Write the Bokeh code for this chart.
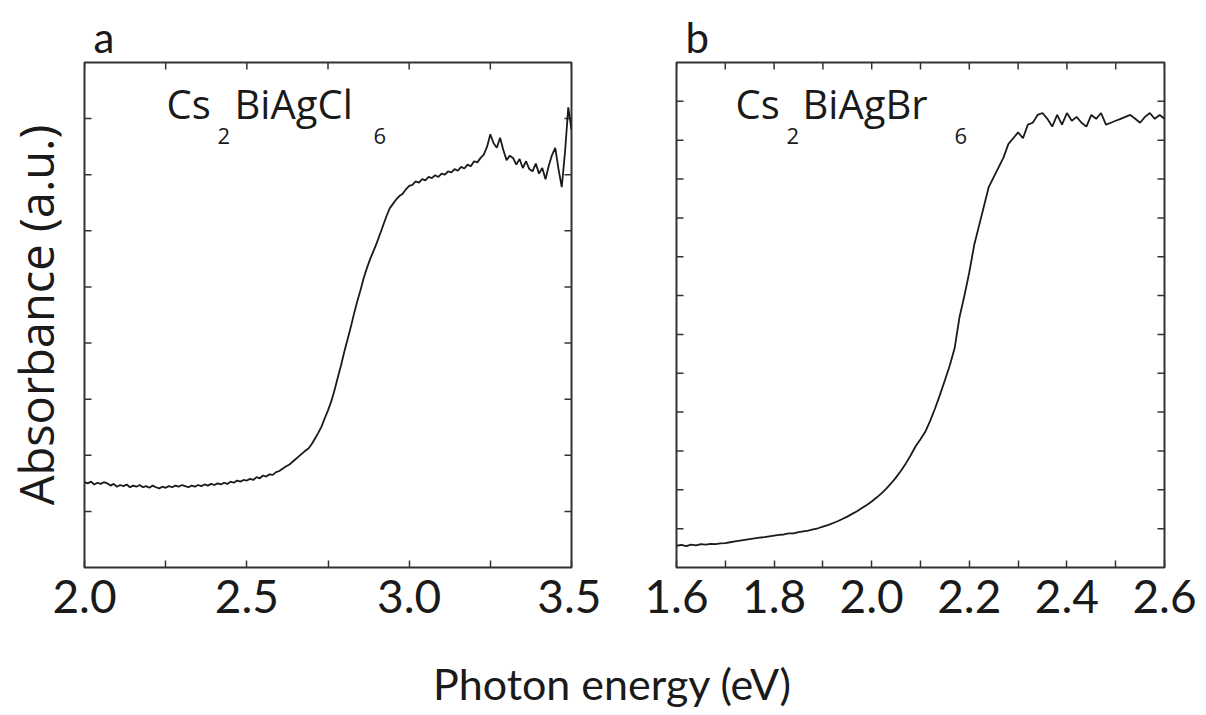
import math
from bokeh.plotting import figure
from bokeh.models import Label, FixedTicker, Range1d, PrintfTickFormatter
from bokeh.layouts import column, row
from bokeh.embed import file_html
from bokeh.resources import INLINE

# ---------------- data ----------------
# Panel a: Cs2BiAgCl6, photon energy 2.00 .. 3.50 eV (step 0.01)
energy_a = [round(2.00 + 0.01 * i, 2) for i in range(151)]
absorb_a = [
    1.52, 1.50, 1.53, 1.48, 1.51, 1.49, 1.52, 1.50, 1.46, 1.49,
    1.44, 1.47, 1.45, 1.48, 1.43, 1.46, 1.44, 1.47, 1.43, 1.45,
    1.42, 1.46, 1.43, 1.41, 1.44, 1.42, 1.45, 1.43, 1.46, 1.44,
    1.47, 1.45, 1.43, 1.46, 1.44, 1.47, 1.45, 1.48, 1.46, 1.49,
    1.47, 1.50, 1.48, 1.51, 1.49, 1.53, 1.51, 1.55, 1.53, 1.56,
    1.55, 1.58, 1.56, 1.61, 1.59, 1.64, 1.62, 1.66, 1.65, 1.70,
    1.72, 1.76, 1.80, 1.83, 1.88, 1.93, 1.98, 2.03, 2.08, 2.12,
    2.20, 2.30, 2.40, 2.51, 2.66, 2.80, 2.96, 3.16, 3.38, 3.60,
    3.84, 4.06, 4.28, 4.52, 4.74, 4.94, 5.16, 5.34, 5.50, 5.64,
    5.78, 5.94, 6.10, 6.26, 6.40, 6.48, 6.56, 6.62, 6.66, 6.74,
    6.80, 6.82, 6.88, 6.86, 6.92, 6.90, 6.96, 6.94, 6.99, 6.96,
    7.02, 7.00, 7.06, 7.04, 7.10, 7.07, 7.14, 7.11, 7.18, 7.15,
    7.24, 7.22, 7.30, 7.36, 7.50, 7.72, 7.56, 7.48, 7.66, 7.44,
    7.26, 7.34, 7.30, 7.18, 7.28, 7.12, 7.24, 7.10, 7.06, 7.20,
    7.02, 7.12, 6.92, 7.16, 7.35, 7.48, 7.10, 6.78, 7.40, 8.20,
    7.80,
]

# Panel b: Cs2BiAgBr6, photon energy 1.60 .. 2.60 eV (step 0.01)
energy_b = [round(1.60 + 0.01 * i, 2) for i in range(101)]
absorb_b = [
    0.56, 0.58, 0.55, 0.59, 0.57, 0.60, 0.59, 0.61, 0.60, 0.62,
    0.63, 0.65, 0.67, 0.69, 0.71, 0.73, 0.75, 0.77, 0.78, 0.80,
    0.82, 0.84, 0.85, 0.88, 0.88, 0.91, 0.93, 0.95, 0.98, 1.01,
    1.05, 1.09, 1.14, 1.19, 1.25, 1.31, 1.38, 1.45, 1.53, 1.61,
    1.70, 1.80, 1.91, 2.03, 2.17, 2.32, 2.49, 2.68, 2.89, 3.12,
    3.30, 3.50, 3.78, 4.10, 4.45, 4.82, 5.20, 5.65, 6.45, 7.00,
    7.60, 8.30, 8.80, 9.30, 9.80, 10.05, 10.30, 10.55, 10.90, 11.05,
    11.20, 11.05, 11.40, 11.45, 11.65, 11.70, 11.55, 11.35, 11.65, 11.40,
    11.70, 11.50, 11.60, 11.45, 11.35, 11.65, 11.55, 11.70, 11.40, 11.45,
    11.50, 11.55, 11.60, 11.65, 11.55, 11.45, 11.60, 11.70, 11.55, 11.65,
    11.55,
]

# tick positions (labelled / unlabelled)
xlab_a = [2.0, 2.5, 3.0, 3.5]
xminor_a = [2.25, 2.75, 3.25]
xlab_b = [1.6, 1.8, 2.0, 2.2, 2.4, 2.6]
xminor_b = [1.7, 1.9, 2.1, 2.3, 2.5]
ytick_a = [1, 2, 3, 4, 5, 6, 7, 8]
ytick_b = [1, 2, 3, 4, 5, 6, 7, 8, 9, 10, 11, 12]

formula_a = [("Cs", "big"), ("2", "sub"), ("BiAgCl", "big"), ("6", "sub")]
formula_b = [("Cs", "big"), ("2", "sub"), ("BiAgBr", "big"), ("6", "sub")]

x_label = "Photon energy (eV)"
y_label = "Absorbance (a.u.)"

# ---------------- style ----------------
TICK_FONT = "Lato"
TEXT_FONT = "Open Sans"
FRAME_COL = "#333333"
INK = "#1a1a1a"
TICK_LEN = 7


def make_panel(xr, yr, xlab, xminor, ytk, left_border, right_border, fw, letter, ylab=None):
    p = figure(
        x_range=Range1d(*xr), y_range=Range1d(*yr),
        frame_width=fw, frame_height=505,
        min_border_left=left_border, min_border_right=right_border,
        min_border_top=62, min_border_bottom=72,
        toolbar_location=None, output_backend="svg",
        background_fill_color="white", border_fill_color="white",
        y_axis_location="left" if ylab else None,
        title=letter,
    )
    p.grid.visible = False
    p.outline_line_color = FRAME_COL
    p.outline_line_width = 2

    # panel letter as title, just above the frame
    p.title.text_font = TICK_FONT
    p.title.text_font_size = "42px"
    p.title.text_font_style = "normal"
    p.title.text_color = INK
    p.title.align = "left"
    p.title.offset = 9
    p.title.standoff = 2

    # bottom axis: labelled ticks, pointing inwards
    bx = p.below[0]
    bx.ticker = FixedTicker(ticks=xlab, minor_ticks=xminor)
    bx.formatter = PrintfTickFormatter(format="%.1f")
    bx.axis_line_color = None
    bx.major_tick_in = TICK_LEN
    bx.major_tick_out = 0
    bx.minor_tick_in = TICK_LEN
    bx.minor_tick_out = 0
    bx.major_tick_line_color = FRAME_COL
    bx.minor_tick_line_color = FRAME_COL
    bx.major_tick_line_width = 1.5
    bx.minor_tick_line_width = 1.5
    bx.major_label_text_font = TICK_FONT
    bx.major_label_text_font_size = "46px"
    bx.major_label_text_color = INK
    bx.major_label_standoff = 12

    if ylab:
        ly = p.left[0]
        ly.ticker = FixedTicker(ticks=[])
        ly.axis_line_color = None
        ly.major_tick_line_color = None
        ly.minor_tick_line_color = None
        ly.axis_label = ylab
        ly.axis_label_text_font = TEXT_FONT
        ly.axis_label_text_font_size = "47px"
        ly.axis_label_text_font_style = "normal"
        ly.axis_label_text_color = INK
        ly.axis_label_standoff = 17

    # inward ticks on top, left and right edges
    xall = sorted(xlab + xminor)
    p.ray(x=xall, y=[yr[1]] * len(xall), length=TICK_LEN, length_units="screen",
          angle=-math.pi / 2, line_color=FRAME_COL, line_width=1.5)
    p.ray(x=[xr[0]] * len(ytk), y=ytk, length=TICK_LEN, length_units="screen",
          angle=0, line_color=FRAME_COL, line_width=1.5)
    p.ray(x=[xr[1]] * len(ytk), y=ytk, length=TICK_LEN, length_units="screen",
          angle=math.pi, line_color=FRAME_COL, line_width=1.5)
    return p


def add_formula(p, parts, offsets):
    for (txt, kind), dx in zip(parts, offsets):
        p.add_layout(Label(
            x=dx, y=464 if kind == "big" else 432,
            x_units="screen", y_units="screen",
            text=txt, text_font=TEXT_FONT,
            text_font_size="40px" if kind == "big" else "22px",
            text_color=INK, text_baseline="alphabetic", text_align="left",
        ))


pa = make_panel((2.0, 3.5), (0, 9), xlab_a, xminor_a, ytick_a, 83, 30, 487, "a", ylab=y_label)
pa.line(energy_a, absorb_a, line_color=INK, line_width=1.8)
add_formula(pa, formula_a, [82, 133, 150, 289])

pb = make_panel((1.6, 2.6), (0, 13), xlab_b, xminor_b, ytick_b, 75, 35, 488, "b")
pb.line(energy_b, absorb_b, line_color=INK, line_width=1.8)
add_formula(pb, formula_b, [59, 110, 126, 278])

pl = figure(
    width=1200, height=74, x_range=Range1d(0, 1), y_range=Range1d(0, 1),
    x_axis_location=None, y_axis_location=None, min_border=0,
    toolbar_location=None, output_backend="svg", outline_line_color=None,
)
pl.grid.visible = False
pl.add_layout(Label(
    x=612, y=30, x_units="screen", y_units="screen", text=x_label,
    text_font=TICK_FONT, text_font_size="43px", text_color=INK,
    text_align="center", text_baseline="alphabetic",
))

layout = column(row(pa, pb), pl)
open("out.html", "w").write(file_html(layout, INLINE))
